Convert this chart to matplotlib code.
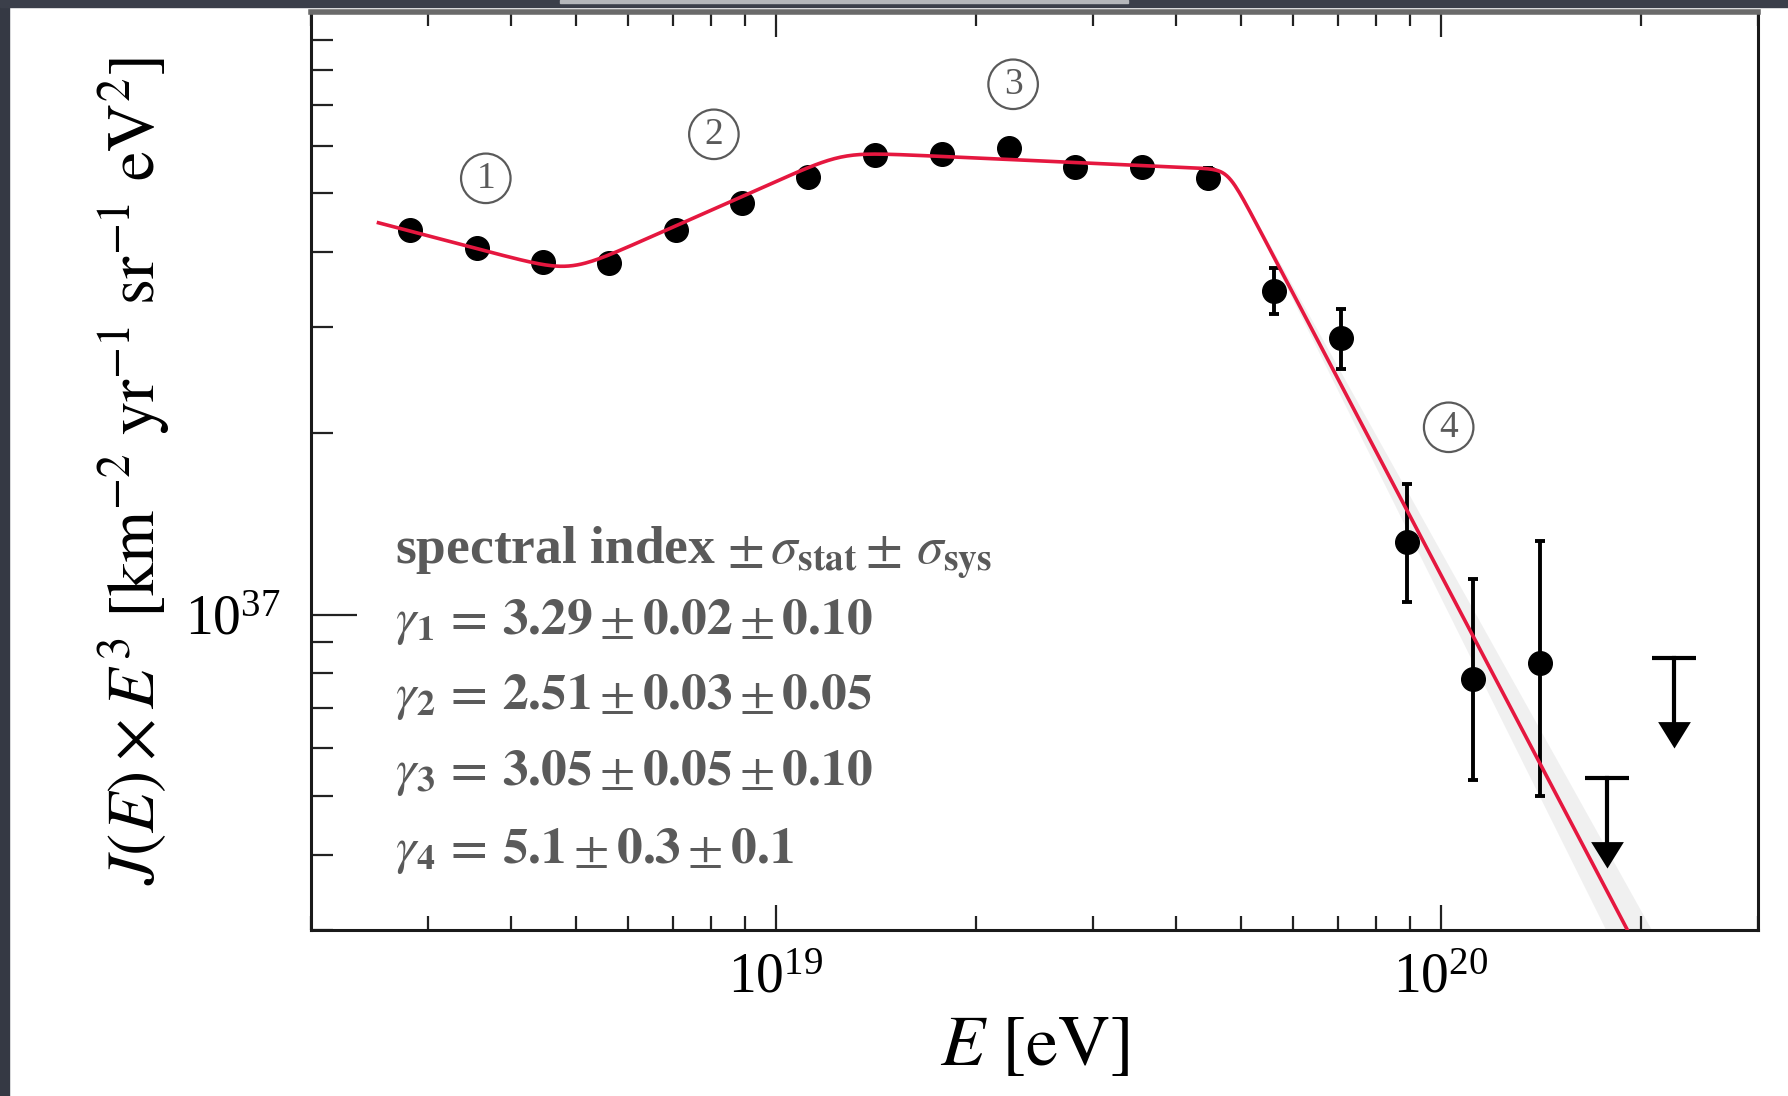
import numpy as np
import matplotlib
matplotlib.use("Agg")
import matplotlib.pyplot as plt
from matplotlib.ticker import (LogLocator, FixedLocator, NullFormatter,
                               LogFormatterMathtext)
from matplotlib.patches import Rectangle

plt.rcParams["font.family"] = ["Liberation Serif", "DejaVu Serif"]
plt.rcParams["mathtext.fontset"] = "stix"

# ---- measured spectrum (J x E^3) ----
energy_eV = [2.82e18, 3.55e18, 4.47e18, 5.62e18, 7.08e18, 8.91e18,
             1.12e19, 1.41e19, 1.78e19, 2.24e19, 2.82e19, 3.55e19,
             4.47e19, 5.62e19, 7.08e19, 8.91e19, 1.12e20, 1.41e20]
flux_e3 = [4.35e37, 4.06e37, 3.85e37, 3.84e37, 4.35e37, 4.82e37,
           5.32e37, 5.78e37, 5.81e37, 5.94e37, 5.53e37, 5.53e37,
           5.31e37, 3.44e37, 2.88e37, 1.32e37, 7.83e36, 8.32e36]
flux_lo = [4.30e37, 4.01e37, 3.80e37, 3.79e37, 4.29e37, 4.75e37,
           5.24e37, 5.68e37, 5.70e37, 5.81e37, 5.38e37, 5.36e37,
           5.10e37, 3.15e37, 2.56e37, 1.05e37, 5.31e36, 5.01e36]
flux_hi = [4.40e37, 4.11e37, 3.90e37, 3.89e37, 4.41e37, 4.89e37,
           5.40e37, 5.88e37, 5.92e37, 6.07e37, 5.68e37, 5.70e37,
           5.52e37, 3.76e37, 3.21e37, 1.65e37, 1.146e37, 1.325e37]

# upper limits (no events)
ul_energy_eV = [1.78e20, 2.24e20]
ul_flux_e3 = [5.37e36, 8.48e36]

# ---- broken power-law fit ----
gammas = [3.29, 2.51, 3.05, 5.1]
gamma_text = ["3.29", "2.51", "3.05", "5.1"]
gamma_stat = ["0.02", "0.03", "0.05", "0.3"]
gamma_sys = ["0.10", "0.05", "0.10", "0.1"]
break_logE = [18.69, 19.10, 19.68]
break_width = [0.05, 0.05, 0.02]
fit_log_ref = 18.40          # log10(E) where the fit line starts
fit_log_norm = 37.651        # log10(J E^3) of the fit at fit_log_ref
fit_log_end = 20.30
band_dgamma = 0.12           # spread of the high-energy slope band

LN10 = np.log(10.0)


def softplus10(x, w):
    return w * np.logaddexp(0.0, x / w * LN10) / LN10


def fit_log_flux(logE, g4=None):
    g = list(gammas)
    if g4 is not None:
        g[3] = g4
    s = 3.0 - np.array(g)
    y = s[0] * (logE - fit_log_ref)
    for k in range(3):
        ds = s[k + 1] - s[k]
        y = y + ds * (softplus10(logE - break_logE[k], break_width[k])
                      - softplus10(fit_log_ref - break_logE[k], break_width[k]))
    return fit_log_norm + y


fig = plt.figure(figsize=(17.88, 10.96), dpi=100)
ax = fig.add_axes([0.1739, 0.1515, 0.8093, 0.8376])
ax.set_xscale("log")
ax.set_yscale("log")
ax.set_xlim(2e18, 3e20)
ax.set_ylim(3e36, 1e38)

# fit curve and its uncertainty band
logE_fit = np.linspace(fit_log_ref, fit_log_end, 600)
ax.plot(10 ** logE_fit, 10 ** fit_log_flux(logE_fit), color="#e5173f",
        lw=2.6, zorder=5, solid_capstyle="butt")
logE_band = np.linspace(break_logE[2], 20.42, 200)
band_hi = 10 ** fit_log_flux(logE_band, gammas[3] - band_dgamma)
band_lo = 10 ** fit_log_flux(logE_band, gammas[3] + band_dgamma)
ax.fill_between(10 ** logE_band, band_lo, band_hi, color="#9a9a9a",
                alpha=0.14, lw=0, zorder=1)

# data points with error bars
flux = np.array(flux_e3)
yerr = [flux - np.array(flux_lo), np.array(flux_hi) - flux]
ax.errorbar(energy_eV, flux, yerr=yerr, fmt="o", color="black", ms=17,
            elinewidth=2.8, capsize=3.5, capthick=2.8, zorder=4)

# upper limits: bar with a downward arrowhead
arrow_dex = 0.15
tip_marker = [(0, 0), (-0.62, 1.0), (0.62, 1.0)]
for e, f in zip(ul_energy_eV, ul_flux_e3):
    tip = f * 10 ** (-arrow_dex)
    ax.plot([e, e], [f, tip * 1.05], color="black", lw=3.0, zorder=4)
    ax.plot([e], [f], marker="_", ms=32, mew=3.0, color="black", zorder=4)
    ax.plot([e], [tip], marker=tip_marker, ms=38, color="black", mew=0,
            zorder=4)

# circled region numbers
grey = "#5a5a5a"
for num, (lx, ly) in zip(["1", "2", "3", "4"],
                         [(18.564, 37.724), (18.907, 37.797),
                          (19.357, 37.880), (20.012, 37.311)]):
    ax.text(10 ** lx, 10 ** ly, num, fontsize=27, color=grey, ha="center",
            va="center",
            bbox=dict(boxstyle="circle,pad=0.2", fc="none", ec=grey, lw=1.6))

# spectral index table
ax.text(0.058, 0.399,
        r"spectral index $\pm\,\sigma_{\mathbf{stat}}\pm\,\sigma_{\mathbf{sys}}$",
        transform=ax.transAxes, fontsize=38.5, fontweight="bold", color=grey,
        ha="left", va="baseline")
line_y = [0.322, 0.241, 0.158, 0.073]
for i in range(4):
    s = (r"$\gamma_{\mathbf{%d}}\,\mathbf{=}\,\mathbf{%s}\pm\mathbf{%s}\pm\mathbf{%s}$"
         % (i + 1, gamma_text[i], gamma_stat[i], gamma_sys[i]))
    ax.text(0.058, line_y[i], s, transform=ax.transAxes, fontsize=37,
            color=grey, ha="left", va="baseline")

# axes styling
ax.xaxis.set_major_locator(LogLocator(base=10, numticks=10))
ax.xaxis.set_minor_locator(LogLocator(base=10, subs=np.arange(2, 10), numticks=20))
ax.yaxis.set_major_locator(FixedLocator([1e37]))
ax.yaxis.set_minor_locator(LogLocator(base=10, subs=np.arange(2, 10), numticks=20))
ax.xaxis.set_major_formatter(LogFormatterMathtext())
ax.yaxis.set_major_formatter(LogFormatterMathtext())
ax.xaxis.set_minor_formatter(NullFormatter())
ax.yaxis.set_minor_formatter(NullFormatter())

ax.tick_params(axis="both", which="both", direction="in", top=True,
               right=False, width=1.6, color="#222222")
ax.tick_params(axis="x", which="major", length=18, pad=16, labelsize=40)
ax.tick_params(axis="x", which="minor", length=10)
ax.tick_params(axis="y", which="major", length=33, pad=22, labelsize=40)
ax.tick_params(axis="y", which="minor", length=16)

for side in ["left", "bottom", "right"]:
    ax.spines[side].set_linewidth(2.2)
    ax.spines[side].set_color("#1a1a1a")
ax.spines["top"].set_linewidth(4.0)
ax.spines["top"].set_color("#6a6a6a")

ax.set_xlabel(r"$E\ [\mathrm{eV}]$", fontsize=52)
ax.xaxis.label.set_va("center")
ax.xaxis.set_label_coords(0.5, -0.128)
ax.set_ylabel(r"$J(E)\times E^{3}\ [\mathrm{km}^{-2}\ \mathrm{yr}^{-1}\ "
              r"\mathrm{sr}^{-1}\ \mathrm{eV}^{2}]$", fontsize=48)
ax.yaxis.label.set_va("center")
ax.yaxis.set_label_coords(-0.122, 0.5)

# dark window frame around the figure
W, H = 1788.0, 1096.0
fig.patches.append(Rectangle((0, 0), 9 / W, 1, transform=fig.transFigure,
                             color="#353944", zorder=10))
fig.patches.append(Rectangle((0, 1 - 7 / H), 1, 7 / H, transform=fig.transFigure,
                             color="#3b3f4a", zorder=10))
fig.patches.append(Rectangle((560 / W, 1 - 3 / H), 568 / W, 3 / H,
                             transform=fig.transFigure, color="#b5b7bb",
                             zorder=11))

fig.savefig("out.png", dpi=100, facecolor="white")
